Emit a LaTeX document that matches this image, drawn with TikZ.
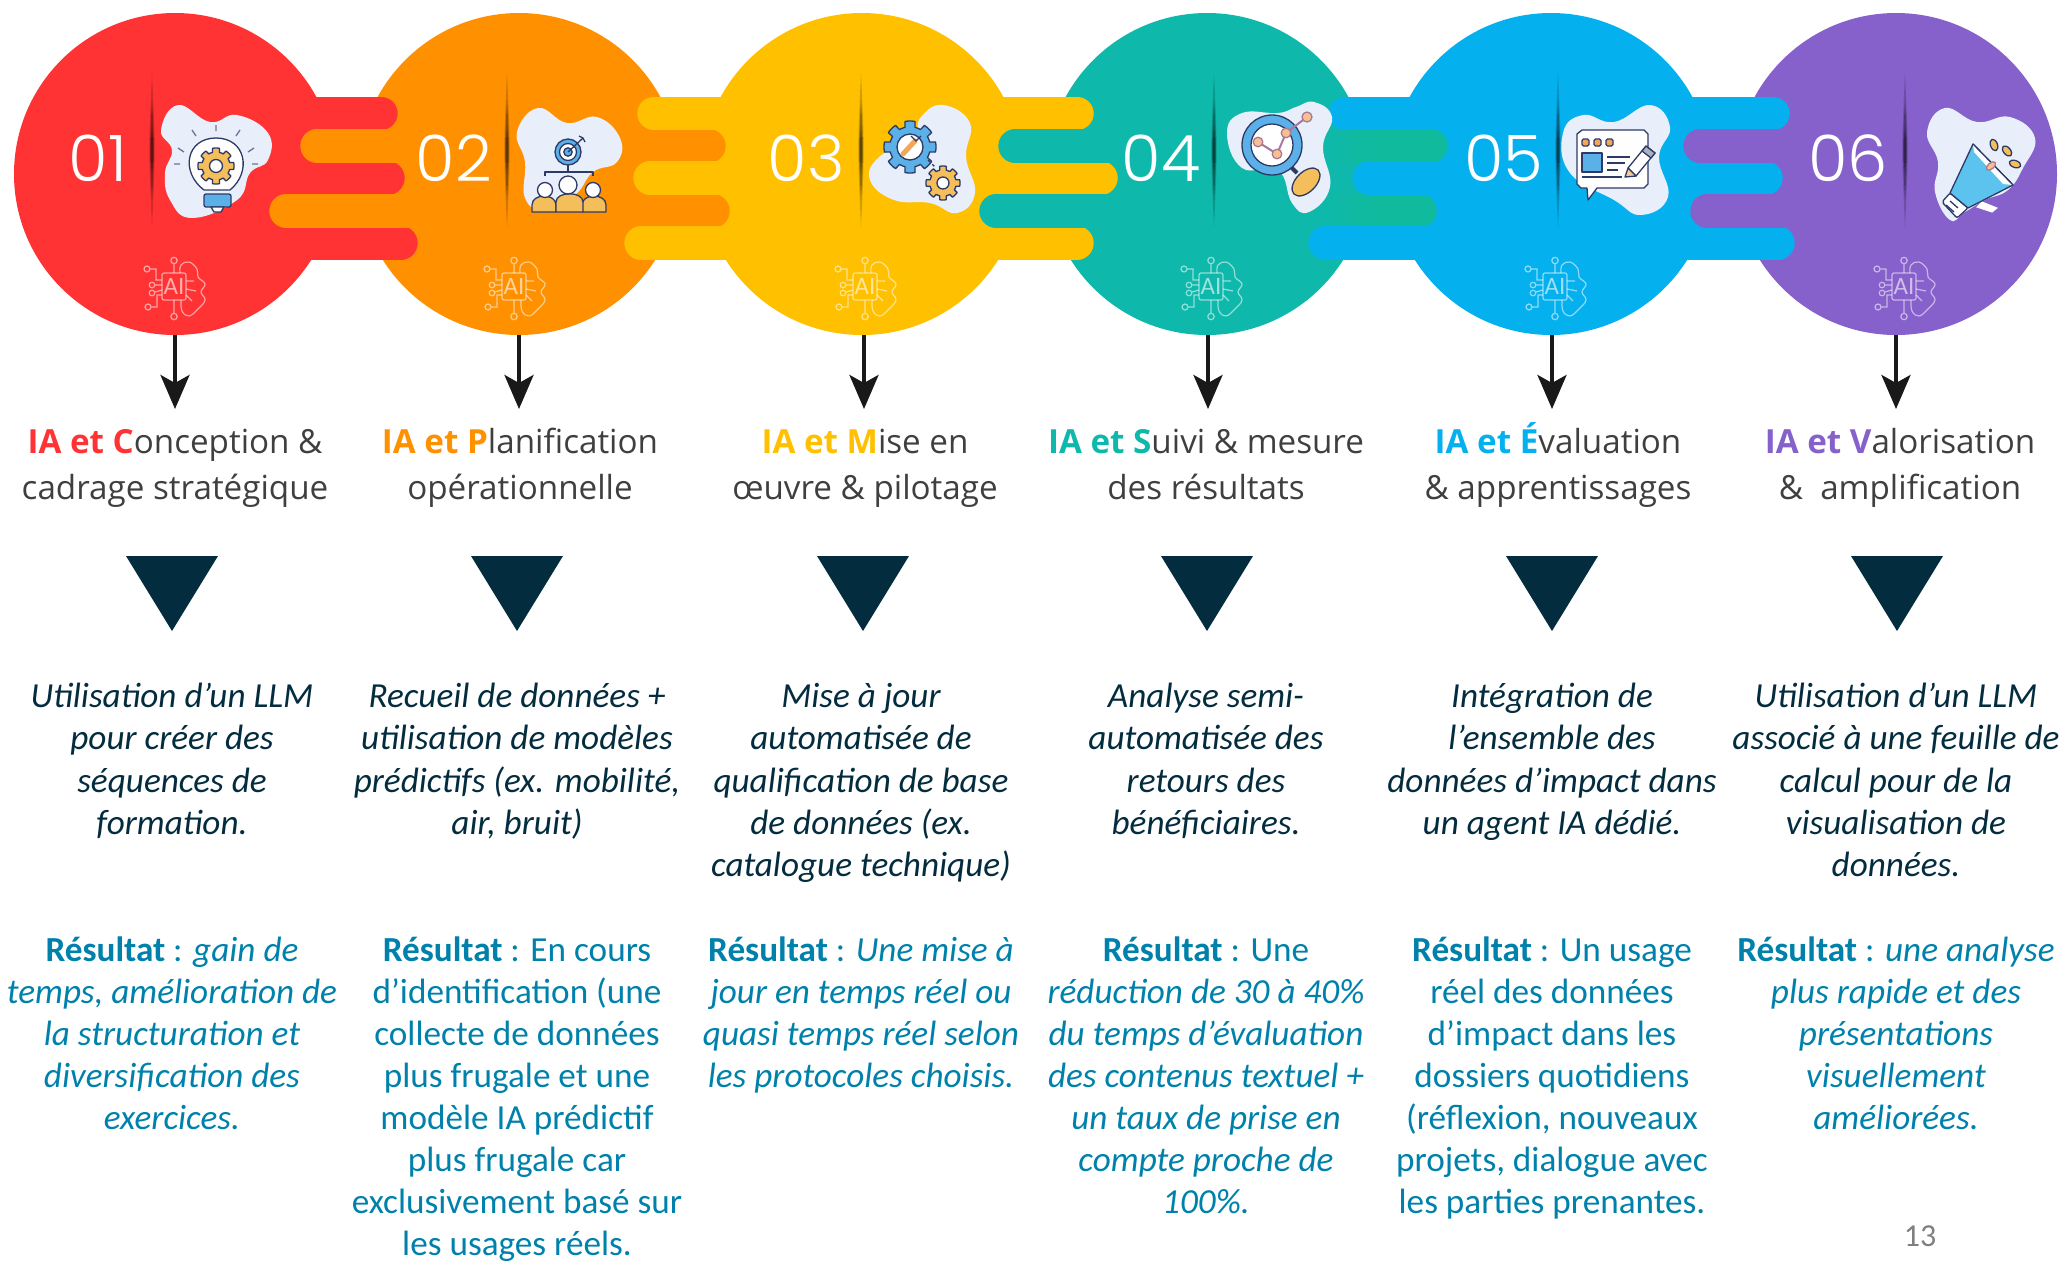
\documentclass[tikz,border=0pt]{standalone}
\usepackage{fontspec}
\setmainfont{Carlito}
\newfontfamily\labfont{Open Sans}
\newfontfamily\numfont{Poppins Light}
\usetikzlibrary{shapes.geometric,arrows.meta}
\definecolor{cred}{HTML}{FF3334}
\definecolor{corange}{HTML}{FF9000}
\definecolor{cyellow}{HTML}{FFC000}
\definecolor{cteal}{HTML}{0EB9AC}
\definecolor{ctealbar}{HTML}{10BA9C}
\definecolor{cblue}{HTML}{05B0EE}
\definecolor{cpurple}{HTML}{8660CB}
\definecolor{navy}{HTML}{042C3F}
\definecolor{resc}{HTML}{0081AB}
\definecolor{labgray}{HTML}{3F3F3F}
\definecolor{blobc}{HTML}{E8EEFA}
\definecolor{ink}{HTML}{2E3A66}
\definecolor{gold}{HTML}{F4BE5A}
\definecolor{lblue}{HTML}{5BB0E8}
\definecolor{skyc}{HTML}{5CC3EE}
\definecolor{peach}{HTML}{F2A65A}
\definecolor{mauve}{HTML}{A9789A}
\tikzset{
  disc/.style={ellipse,inner sep=0pt,minimum width=322pt,minimum height=322pt,fill=#1},
  numtxt/.style={text=white,inner sep=0pt,font=\numfont\fontsize{64}{64}\selectfont},
  labtxt/.style={anchor=north,align=center,inner sep=0pt,text=labgray,font=\labfont\fontsize{33.2}{46}\selectfont},
  bodytxt/.style={anchor=north,align=center,inner sep=0pt,text=navy,font=\fontsize{35.2}{42.4}\selectfont\itshape},
  restxt/.style={anchor=north,align=center,inner sep=0pt,text=resc,font=\fontsize{35.2}{42.1}\selectfont},
  resit/.style={restxt,font=\fontsize{35.2}{42.1}\selectfont\itshape},
  downarrow/.style={draw=black!90,line width=4pt,-{Stealth[length=34pt,width=29pt,inset=8pt]}},
  wedge/.style={fill=navy},
  tongue/.style={line width=33.4pt,line cap=round},
  blob/.style={fill=blobc},
  line/.style={draw=ink,line width=1.3pt,line join=round},
  aiicon/.style={draw=white,draw opacity=.55,line width=1.2pt,fill=none},
}
\newcommand{\labelhead}[2]{{\bfseries\color{#1}#2}}
\newcommand{\resword}{{\upshape\bfseries Résultat}{\upshape\ : }}
\newcommand{\fstrut}{\rule{0pt}{30pt}}
\newcommand{\slitmark}[1]{%
  \fill[black,opacity=.18] (#1,73) .. controls (#1+3.5,150) .. (#1,227) .. controls (#1-3.5,150) .. (#1,73);
  \fill[black,opacity=.3] (#1,100) .. controls (#1+2.6,150) .. (#1,200) .. controls (#1-2.6,150) .. (#1,100);
  \fill[black,opacity=.35] (#1,125) .. controls (#1+1.6,150) .. (#1,175) .. controls (#1-1.6,150) .. (#1,125);
}
% gear: x, y, outer radius, hole radius, fill
\newcommand{\gearshape}[5]{%
  \filldraw[line,fill=#5] plot[domain=0:360,samples=129] ({#1+((cos(8*\x)>=0)*1+(cos(8*\x)<0)*.78)*#3*cos(\x)},{#2+((cos(8*\x)>=0)*1+(cos(8*\x)<0)*.78)*#3*sin(\x)}) -- cycle;
  \filldraw[line,fill=white] (#1,#2) circle (#4);
}
% AI brain icon: x, y, node name
\newcommand{\aimark}[3]{%
 \begin{scope}[shift={(#1,#2)}]
  \draw[aiicon,rounded corners=2pt] (-12,-16) rectangle (12,11);
  \node[inner sep=0pt,text=white,text opacity=.6,font=\fontsize{25}{25}\selectfont] (#3) at (0,-2.5) {AI};
  \draw[aiicon] (0,-16) -- (0,-25) (0,-28.5) circle (3.2);
  \draw[aiicon] (0,11) -- (0,24) (0,27.5) circle (3.2);
  \draw[aiicon] (-12,-9) -- (-18,-9) -- (-18,-20) -- (-24,-20) (-27,-20) circle (3);
  \draw[aiicon] (-12,6) -- (-17,6) -- (-17,18) -- (-23,18) (-26,18) circle (3);
  \draw[aiicon] (-12,-4) -- (-19,-4) (-22,-4) circle (2.8);
  \draw[aiicon] (-12,1) -- (-19,3) (-22,4) circle (2.8);
  \draw[aiicon] plot[smooth,tension=.7] coordinates {(6,-16) (7,-24) (15,-27) (23,-20) (24,-12) (31,-5) (27,3) (31,11) (24,20) (15,27) (8,22) (7,11)};
  \draw[aiicon] (12,-8) -- (20,-8) (12,0) -- (22,2) (12,6) -- (18,12);
 \end{scope}}
\begin{document}
\begin{tikzpicture}[x=1pt,y=-1pt]
\useasboundingbox (0,0) rectangle (2062,1262);
% discs
\node[disc=cred]    (c1) at (175,174) {};
\node[disc=corange] (c2) at (519,174) {};
\node[disc=cyellow] (c3) at (862,174) {};
\node[disc=cteal]   (c4) at (1207,174) {};
\node[disc=cblue]   (c5) at (1551,174) {};
\node[disc=cpurple] (c6) at (1896,174) {};
% interlocking tongues
\draw[tongue,cred] (175,113.3) -- (381,113.3);
\draw[tongue,cred] (175,178) -- (388,178);
\draw[tongue,cred] (175,243) -- (401,243);
\draw[tongue,corange] (519,146) -- (317,146);
\draw[tongue,corange] (519,211) -- (286,211);
\draw[tongue,corange] (519,146) -- (709,146);
\draw[tongue,corange] (519,211) -- (713,211);
\draw[tongue,cyellow] (862,113.3) -- (654,113.3);
\draw[tongue,cyellow] (862,178) -- (650,178);
\draw[tongue,cyellow] (862,243) -- (641,243);
\draw[tongue,cyellow] (862,113.3) -- (1077,113.3);
\draw[tongue,cyellow] (862,178) -- (1101,178);
\draw[tongue,cyellow] (862,243) -- (1077,243);
\draw[tongue,cteal] (1207,146) -- (1015,146);
\draw[tongue,cteal] (1207,211) -- (996,211);
\draw[tongue,ctealbar] (1380,146) -- (1431,146);
\draw[tongue,ctealbar] (1380,211) -- (1420,211);
\shade[left color=cteal,right color=ctealbar] (1320,129.3) rectangle (1380,162.7);
\shade[left color=cteal,right color=ctealbar] (1320,194.3) rectangle (1380,227.7);
\draw[tongue,cblue] (1551,113.3) -- (1345,113.3);
\draw[tongue,cblue] (1551,178) -- (1369,178);
\draw[tongue,cblue] (1551,243) -- (1325,243);
\draw[tongue,cblue] (1551,113.3) -- (1773,113.3);
\draw[tongue,cblue] (1551,178) -- (1766,178);
\draw[tongue,cblue] (1551,243) -- (1778,243);
\draw[tongue,cpurple] (1896,146) -- (1700,146);
\draw[tongue,cpurple] (1896,211) -- (1707,211);
% slits
\slitmark{152}\slitmark{507}\slitmark{861}\slitmark{1214}\slitmark{1558}\slitmark{1905}
% numbers
\node[numtxt] (n1) at (98,158) {01};
\node[numtxt] (n2) at (454,158) {02};
\node[numtxt] (n3) at (806,158) {03};
\node[numtxt] (n4) at (1161,158) {04};
\node[numtxt] (n5) at (1504,158) {05};
\node[numtxt] (n6) at (1848,158) {06};
% blobs
\fill[blob] plot[smooth cycle,tension=.75] coordinates {(178,105) (210,122) (237,115) (268,133) (268,160) (250,173) (237,200) (192,218) (170,200) (165,173) (172,150) (161,130)};
\fill[blob] plot[smooth cycle,tension=.75] coordinates {(538,108) (567,123) (597,117) (620,138) (617,162) (593,172) (575,195) (545,210) (525,198) (525,162) (517,132)};
\fill[blob] plot[smooth cycle,tension=.75] coordinates {(943,105) (970,123) (966,157) (975,193) (957,213) (930,203) (894,200) (870,180) (879,157) (912,140) (921,117)};
\fill[blob] plot[smooth cycle,tension=.75] coordinates {(1314,102) (1332,117) (1323,147) (1330,187) (1309,212) (1292,203) (1278,170) (1242,168) (1227,133) (1242,113) (1278,113) (1296,107)};
\fill[blob] plot[smooth cycle,tension=.75] coordinates {(1650,105) (1670,127) (1659,157) (1668,197) (1641,215) (1614,200) (1570,173) (1563,133) (1583,115) (1614,122)};
\fill[blob] plot[smooth cycle,tension=.75] coordinates {(1945,108) (1977,122) (2010,117) (2035,138) (2023,168) (2008,190) (1985,200) (1965,212) (1950,220) (1935,192) (1938,162) (1927,132)};
% icon 1: bulb
\filldraw[line,fill=white] (204,190) .. controls (180,172) and (186,138) .. (216,138) .. controls (246,138) and (252,172) .. (230,190) -- cycle;
\gearshape{216}{166}{18}{6.5}{gold}
\filldraw[line,fill=lblue,rounded corners=2pt] (204,194) rectangle (231,207);
\filldraw[line,fill=white] (211,207) -- (224,207) -- (221,212) -- (214,212) -- cycle;
\draw[line,draw=ink!70] (216,131) -- (216,125) (196,136) -- (192,130) (236,136) -- (240,130) (184,152) -- (178,148) (248,152) -- (254,148) (180,164) -- (174,164) (252,164) -- (258,164);
% icon 2: target and team
\filldraw[line,fill=lblue] (568,152) circle (13);
\filldraw[line,fill=white] (568,152) circle (8.5);
\filldraw[line,fill=lblue] (568,152) circle (4.2);
\draw[line] (568,152) -- (583,138) (579,136) -- (583,138) -- (585,142);
\draw[line] (568,165) -- (568,172) (545,176) -- (545,172) -- (593,172) -- (593,176);
\filldraw[line,fill=gold] (532,212) -- (532,205) .. controls (532,193) and (556,193) .. (556,205) -- (556,212) -- cycle;
\filldraw[line,fill=gold] (582,212) -- (582,205) .. controls (582,193) and (606,193) .. (606,205) -- (606,212) -- cycle;
\filldraw[line,fill=gold] (556,212) -- (556,202) .. controls (556,191) and (583,191) .. (583,202) -- (583,212) -- cycle;
\filldraw[line,fill=white] (545,190) circle (7.5);
\filldraw[line,fill=white] (593,190) circle (7.5);
\filldraw[line,fill=white] (568,185) circle (9);
% icon 3: gears
\gearshape{910}{147}{26}{13}{lblue}
\draw[peach,line width=5pt,line cap=round] (903,154) -- (915,141);
\draw[ink,line width=1.1pt] (911,136) -- (916,141) -- (921,136);
\gearshape{943}{183}{17}{6}{gold}
\draw[line,dashed] (928,160) -- (936,168);
% icon 4: magnifier
\draw[line,line width=4pt] (1289,165) -- (1297,173);
\filldraw[line,fill=gold,rotate around={45:(1306,182)}] (1306,182) ellipse (17 and 10);
\filldraw[line,fill=lblue] (1272,145) circle (30);
\filldraw[line,fill=white] (1272,145) circle (21);
\draw[mauve,line width=2pt] (1258,142) -- (1277,154) -- (1286,133) -- (1307,117);
\filldraw[line,draw=mauve,fill=peach!70] (1258,142) circle (4.8);
\filldraw[line,draw=mauve,fill=peach!70] (1277,154) circle (4.8);
\filldraw[line,draw=mauve,fill=peach!70] (1286,133) circle (4.8);
\filldraw[line,draw=mauve,fill=peach!70] (1307,117) circle (5);
% icon 5: window and pencil
\filldraw[line,fill=white!95!blobc] (1582,130) -- (1644,130) -- (1648,134) -- (1648,184) -- (1644,188) -- (1597,188) -- (1588,200) -- (1587,188) -- (1581,188) -- (1577,184) -- (1577,134) -- cycle;
\filldraw[line,fill=peach,rounded corners=1.5pt] (1582,139) rectangle (1589,146);
\filldraw[line,fill=peach,rounded corners=1.5pt] (1594,139) rectangle (1601,146);
\filldraw[line,fill=peach,rounded corners=1.5pt] (1606,139) rectangle (1613,146);
\filldraw[line,fill=lblue] (1582,153) rectangle (1602,172);
\draw[line] (1607,157) -- (1630,157) (1607,163) -- (1625,163) (1607,170) -- (1618,170) (1582,177) -- (1622,177);
\filldraw[line,fill=white] (1628,168) -- (1646,146) -- (1655,153) -- (1636,176) -- cycle;
\filldraw[line,fill=ink!40] (1642,151) -- (1646,146) -- (1655,153) -- (1651,158) -- cycle;
\filldraw[line,fill=peach!60] (1628,168) -- (1636,176) -- (1625,177) -- cycle;
% icon 6: megaphone
\filldraw[line,fill=white,rounded corners=2pt] (1950,193) -- (1968,208) -- (1957,218) -- (1942,202) -- cycle;
\draw[line] (1950,201) -- (1958,208) (1946,205) -- (1954,212);
\filldraw[fill=white,draw=white,line width=1pt] (1977,207) -- (1982,202) -- (1997,208) -- (1992,212) -- cycle;
\filldraw[line,fill=skyc] (1950,193) -- (1973,144) -- (2013,185) -- (1968,208) -- cycle;
\fill[white] (1973,144) -- (2013,185) -- (2003,184) -- (1974,152) -- cycle;
\draw[line] (1973,144) -- (2013,185);
\filldraw[line,draw=mauve,fill=peach!70,rotate around={40:(1991,166)}] (1991,166) ellipse (5.5 and 3);
\filldraw[line,fill=gold,rotate around={-70:(1994,145)}] (1994,145) ellipse (6 and 3.5);
\filldraw[line,fill=gold,rotate around={-50:(2007,151)}] (2007,151) ellipse (6 and 3.5);
\filldraw[line,fill=gold,rotate around={-20:(2015,164)}] (2015,164) ellipse (6 and 3.5);
% AI marks
\aimark{174}{289}{ai1}\aimark{514}{289}{ai2}\aimark{865}{289}{ai3}\aimark{1211}{289}{ai4}\aimark{1555}{289}{ai5}\aimark{1904}{289}{ai6}
% arrows
\coordinate (a1) at (175,409);\coordinate (a2) at (519,409);\coordinate (a3) at (864,409);
\coordinate (a4) at (1208,409);\coordinate (a5) at (1552,409);\coordinate (a6) at (1896,409);
\draw[downarrow] (c1.south) -- (a1);
\draw[downarrow] (c2.south) -- (a2);
\draw[downarrow] (864,335) -- (a3);
\draw[downarrow] (c4.south -| a4) -- (a4);
\draw[downarrow] (c5.south -| a5) -- (a5);
\draw[downarrow] (c6.south) -- (a6);
% headings
\node[labtxt] (l1) at (175,419) {\rule{0pt}{34pt}\labelhead{cred}{IA et C}onception \&\\cadrage stratégique};
\node[labtxt] (l2) at (520,419) {\rule{0pt}{34pt}\labelhead{corange}{IA et P}lanification\\opérationnelle};
\node[labtxt] (l3) at (865,419) {\rule{0pt}{34pt}\labelhead{cyellow}{IA et M}ise en\\œuvre \& pilotage};
\node[labtxt] (l4) at (1206,419) {\rule{0pt}{34pt}\labelhead{cteal}{IA et S}uivi \& mesure\\des résultats};
\node[labtxt] (l5) at (1558,419) {\rule{0pt}{34pt}\labelhead{cblue}{IA et É}valuation\\\& apprentissages};
\node[labtxt] (l6) at (1900,419) {\rule{0pt}{34pt}\labelhead{cpurple}{IA et V}alorisation\\\&~~amplification};
% wedges
\fill[wedge] (126,556) -- (218,556) -- (172,631) -- cycle;
\fill[wedge] (471,556) -- (563,556) -- (517,631) -- cycle;
\fill[wedge] (817,556) -- (909,556) -- (863,631) -- cycle;
\fill[wedge] (1161,556) -- (1253,556) -- (1207,631) -- cycle;
\fill[wedge] (1506,556) -- (1598,556) -- (1552,631) -- cycle;
\fill[wedge] (1851,556) -- (1943,556) -- (1897,631) -- cycle;
% use cases
\node[bodytxt] (b1) at (172,677) {\fstrut Utilisation d’un LLM\\pour créer des\\séquences de\\formation.};
\node[bodytxt] (b2) at (517,677) {\fstrut Recueil de données +\\utilisation de modèles\\prédictifs (ex. mobilité,\\air, bruit)};
\node[bodytxt] (b3) at (861,677) {\fstrut Mise à jour\\automatisée de\\qualification de base\\de données (ex.\\catalogue technique)};
\node[bodytxt] (b4) at (1206,677) {\fstrut Analyse semi-\\automatisée des\\retours des\\bénéficiaires.};
\node[bodytxt] (b5) at (1552,677) {\fstrut Intégration de\\l’ensemble des\\données d’impact dans\\un agent IA dédié.};
\node[bodytxt] (b6) at (1896,677) {\fstrut Utilisation d’un LLM\\associé à une feuille de\\calcul pour de la\\visualisation de\\données.};
% results
\node[resit] (r1) at (172,931) {\fstrut\resword gain de\\temps, amélioration de\\la structuration et\\diversification des\\exercices.};
\node[restxt] (r2) at (517,931) {\fstrut\resword En cours\\d’identification (une\\collecte de données\\plus frugale et une\\modèle IA prédictif\\plus frugale car\\exclusivement basé sur\\les usages réels.};
\node[resit] (r3) at (861,931) {\fstrut\resword Une mise à\\jour en temps réel ou\\quasi temps réel selon\\les protocoles choisis.};
\node[resit] (r4) at (1206,931) {\fstrut\resword{\upshape Une}\\réduction de 30 à 40\%\\du temps d’évaluation\\des contenus textuel +\\un taux de prise en\\compte proche de\\100\%.};
\node[restxt] (r5) at (1552,931) {\fstrut\resword Un usage\\réel des données\\d’impact dans les\\dossiers quotidiens\\(réflexion, nouveaux\\projets, dialogue avec\\les parties prenantes.};
\node[resit] (r6) at (1896,931) {\fstrut\resword une analyse\\plus rapide et des\\présentations\\visuellement\\améliorées.};
% page number
\node[inner sep=0pt,text=black!50,font=\fontsize{32}{32}\selectfont] (pg) at (1920,1236) {13};
\end{tikzpicture}
\end{document}
